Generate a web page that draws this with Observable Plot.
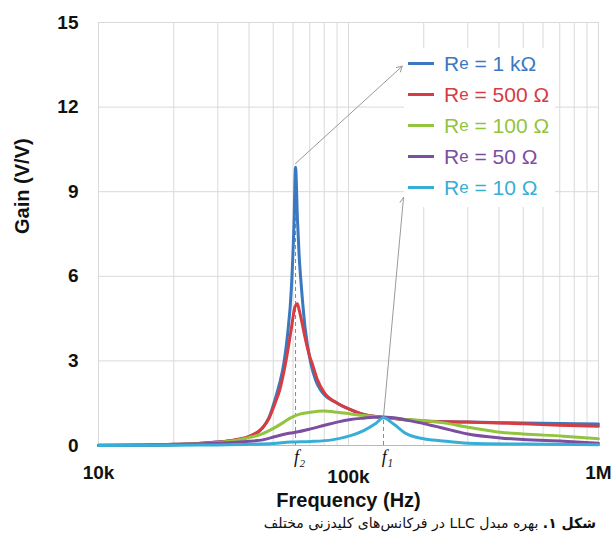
<!DOCTYPE html>
<html><head><meta charset="utf-8">
<script src="https://cdn.jsdelivr.net/npm/d3@7"></script>
<script src="https://cdn.jsdelivr.net/npm/@observablehq/plot@0.6"></script>
<style>
body{margin:0;background:#fff;font-family:"Liberation Sans",Arial,sans-serif;}
#wrap{position:relative;width:616px;height:534px;overflow:hidden;background:#fff}
#legend{position:absolute;left:404px;top:48px;background:#fff;padding:0 6px 4px 4px}
.row{display:flex;align-items:center;height:31px;font-size:21px;white-space:nowrap}
.sw{width:26px;height:3px;margin-right:10px}
.row sub{font-size:17px;vertical-align:-6px;line-height:0}
#caption{position:absolute;right:20px;top:514px;font-family:"DejaVu Sans",sans-serif;direction:rtl;font-size:14px;line-height:18px;color:#111;white-space:nowrap}
</style></head>
<body><div id="wrap"><div id="chart"></div><div id="legend"></div><div id="caption"></div></div>
<script>
// ---- data ----
const seriesNames = ["1 kΩ", "500 Ω", "100 Ω", "50 Ω", "10 Ω"];
const seriesColors = ["#3A78C0", "#D63C40", "#92C43F", "#7B4E9F", "#37AED6"];

const freq1k = [10000,15000,20000,25000,30000,35000,40000,45400,48000,51100,53000,55100,57000,59200,60500,61400,62500,63500,64700,67000,70500,74000,77300,80000,90200,101900,115000,126000,138000,160000,200000,300000,400000,500000,700000,1000000];
const gain1k = [0.01,0.02,0.04,0.07,0.12,0.19,0.31,0.63,0.98,1.7,2.2,2.9,3.9,5.7,7.8,9.87,8.0,6.7,5.7,4.2,2.95,2.3,1.97,1.8,1.5,1.27,1.1,1.04,1.0,0.94,0.87,0.83,0.81,0.8,0.78,0.76];

const freq500 = [10000,15000,20000,25000,30000,35000,40000,45400,48000,51100,53000,55100,57000,59200,61000,62400,63500,65000,67500,70000,71600,75000,79600,90200,101900,115000,128000,138000,160000,200000,300000,400000,500000,700000,1000000];
const gain500 = [0.01,0.02,0.04,0.07,0.12,0.2,0.32,0.64,0.95,1.55,1.95,2.6,3.3,4.2,4.9,5.03,4.8,4.4,3.7,3.15,2.9,2.35,1.9,1.5,1.27,1.1,1.03,1.0,0.93,0.86,0.83,0.8,0.77,0.72,0.68];

const freq100 = [10000,20000,30000,40000,45400,51100,55000,58700,64300,70500,79600,90200,101900,115000,138000,161000,200000,233000,300000,405000,500000,724000,1000000];
const gain100 = [0.0,0.03,0.1,0.28,0.42,0.65,0.82,0.98,1.12,1.18,1.22,1.18,1.12,1.06,1.0,0.94,0.88,0.82,0.65,0.47,0.41,0.33,0.24];

const freq50 = [10000,20000,30000,40000,45400,51100,58700,61400,70500,79600,90200,101900,115000,126000,143000,171000,213000,233000,300000,405000,500000,724000,1000000];
const gain50 = [0.0,0.03,0.08,0.15,0.2,0.32,0.44,0.47,0.59,0.71,0.83,0.92,0.97,1.0,1.0,0.9,0.72,0.64,0.41,0.27,0.21,0.15,0.08];

const freq10 = [10000,20000,30000,40000,50000,58700,70500,86000,101900,115000,128000,138000,151000,171000,200000,233000,300000,500000,1000000];
const gain10 = [0.0,0.01,0.02,0.04,0.07,0.12,0.14,0.2,0.35,0.53,0.77,0.98,0.77,0.41,0.24,0.17,0.08,0.05,0.03];

const yTicks = [0, 3, 6, 9, 12, 15];
const xTickValues = [1e4, 1e5, 1e6];
const xTickLabels = ["10k", "100k", "1M"];
const xGrid = [1e4,2e4,3e4,4e4,5e4,6e4,7e4,8e4,9e4,1e5,2e5,3e5,4e5,5e5,6e5,7e5,8e5,9e5,1e6];

const markerNames = ["f₂", "f₁"];
const markerFreq = [61400, 138000];
const markerGain = [9.87, 1.0];
const arrowFrom = [[61400, 10.0], [138000, 1.0]];
const arrowTo = [[164000, 13.45], [166000, 8.8]];

const xLabel = "Frequency (Hz)";
const yLabel = "Gain (V/V)";
const captionBold = "شکل ۱.";
const captionText = " بهره مبدل LLC در فرکانس‌های کلیدزنی مختلف";

// ---- build table ----
const freqs = [freq1k, freq500, freq100, freq50, freq10];
const gains = [gain1k, gain500, gain100, gain50, gain10];
const rows = [];
seriesNames.forEach((s, i) => freqs[i].forEach((f, j) => rows.push({s, c: seriesColors[i], f, g: gains[i][j]})));
const markers = markerNames.map((n, i) => ({n, f: markerFreq[i], g: markerGain[i]}));
const arrows = arrowFrom.map((a, i) => ({x1: a[0], y1: a[1], x2: arrowTo[i][0], y2: arrowTo[i][1]}));

const chart = Plot.plot({
  width: 616, height: 512,
  marginLeft: 98, marginRight: 18, marginTop: 22, marginBottom: 67,
  style: {fontFamily: "'Liberation Sans', Arial, sans-serif", background: "#fff", overflow: "visible"},
  x: {type: "log", domain: [1e4, 1e6]},
  y: {domain: [0, 15]},
  marks: [
    Plot.ruleX(xGrid, {stroke: "#d9d9d9", strokeWidth: 1}),
    Plot.ruleY(yTicks, {stroke: "#d9d9d9", strokeWidth: 1}),
    Plot.ruleY([0], {stroke: "#b8b8b8", strokeWidth: 1.2}),
    Plot.axisY(yTicks, {tickSize: 0, tickPadding: 20, fontSize: 19, fontWeight: "bold", fill: "#111", label: null}),
    Plot.axisX([xTickValues[0], xTickValues[2]], {tickSize: 0, tickPadding: 20, fontSize: 19, fontWeight: "bold", fill: "#111", label: null,
      tickFormat: d => xTickLabels[xTickValues.indexOf(d)]}),
    Plot.axisX([xTickValues[1]], {tickSize: 0, tickPadding: 24, fontSize: 19, fontWeight: "bold", fill: "#111", label: null,
      tickFormat: d => xTickLabels[xTickValues.indexOf(d)]}),
    Plot.text([xLabel], {frameAnchor: "bottom", dy: 61, fontSize: 20, fontWeight: "bold", fill: "#111"}),
    Plot.text([yLabel], {frameAnchor: "left", dx: -76, rotate: -90, fontSize: 20, fontWeight: "bold", fill: "#111"}),
    Plot.ruleX(markers, {x: "f", y1: 0, y2: "g", stroke: "#888", strokeDasharray: "4,3", strokeWidth: 1}),
    Plot.text(markers, {x: "f", frameAnchor: "bottom", dy: 17, dx: 4, text: "n", fontStyle: "italic",
      fontFamily: "'Liberation Serif', 'DejaVu Serif', serif", fontSize: 18, fill: "#111"}),
    Plot.line(rows, {x: "f", y: "g", z: "s", stroke: "c", strokeWidth: 3, curve: "monotone-x"}),
    Plot.arrow(arrows, {x1: "x1", y1: "y1", x2: "x2", y2: "y2", stroke: "#999", strokeWidth: 1, headLength: 9})
  ]
});
document.getElementById("chart").appendChild(chart);

const legend = document.getElementById("legend");
seriesNames.forEach((s, i) => {
  const row = document.createElement("div");
  row.className = "row";
  row.style.color = seriesColors[i];
  row.innerHTML = `<span class="sw" style="background:${seriesColors[i]}"></span>R<sub>e</sub>&nbsp;=&nbsp;${s}`;
  legend.appendChild(row);
});
const cap = document.getElementById("caption");
const b = document.createElement("b"); b.textContent = captionBold; cap.appendChild(b);
cap.appendChild(document.createTextNode(captionText));
</script>
</body></html>
